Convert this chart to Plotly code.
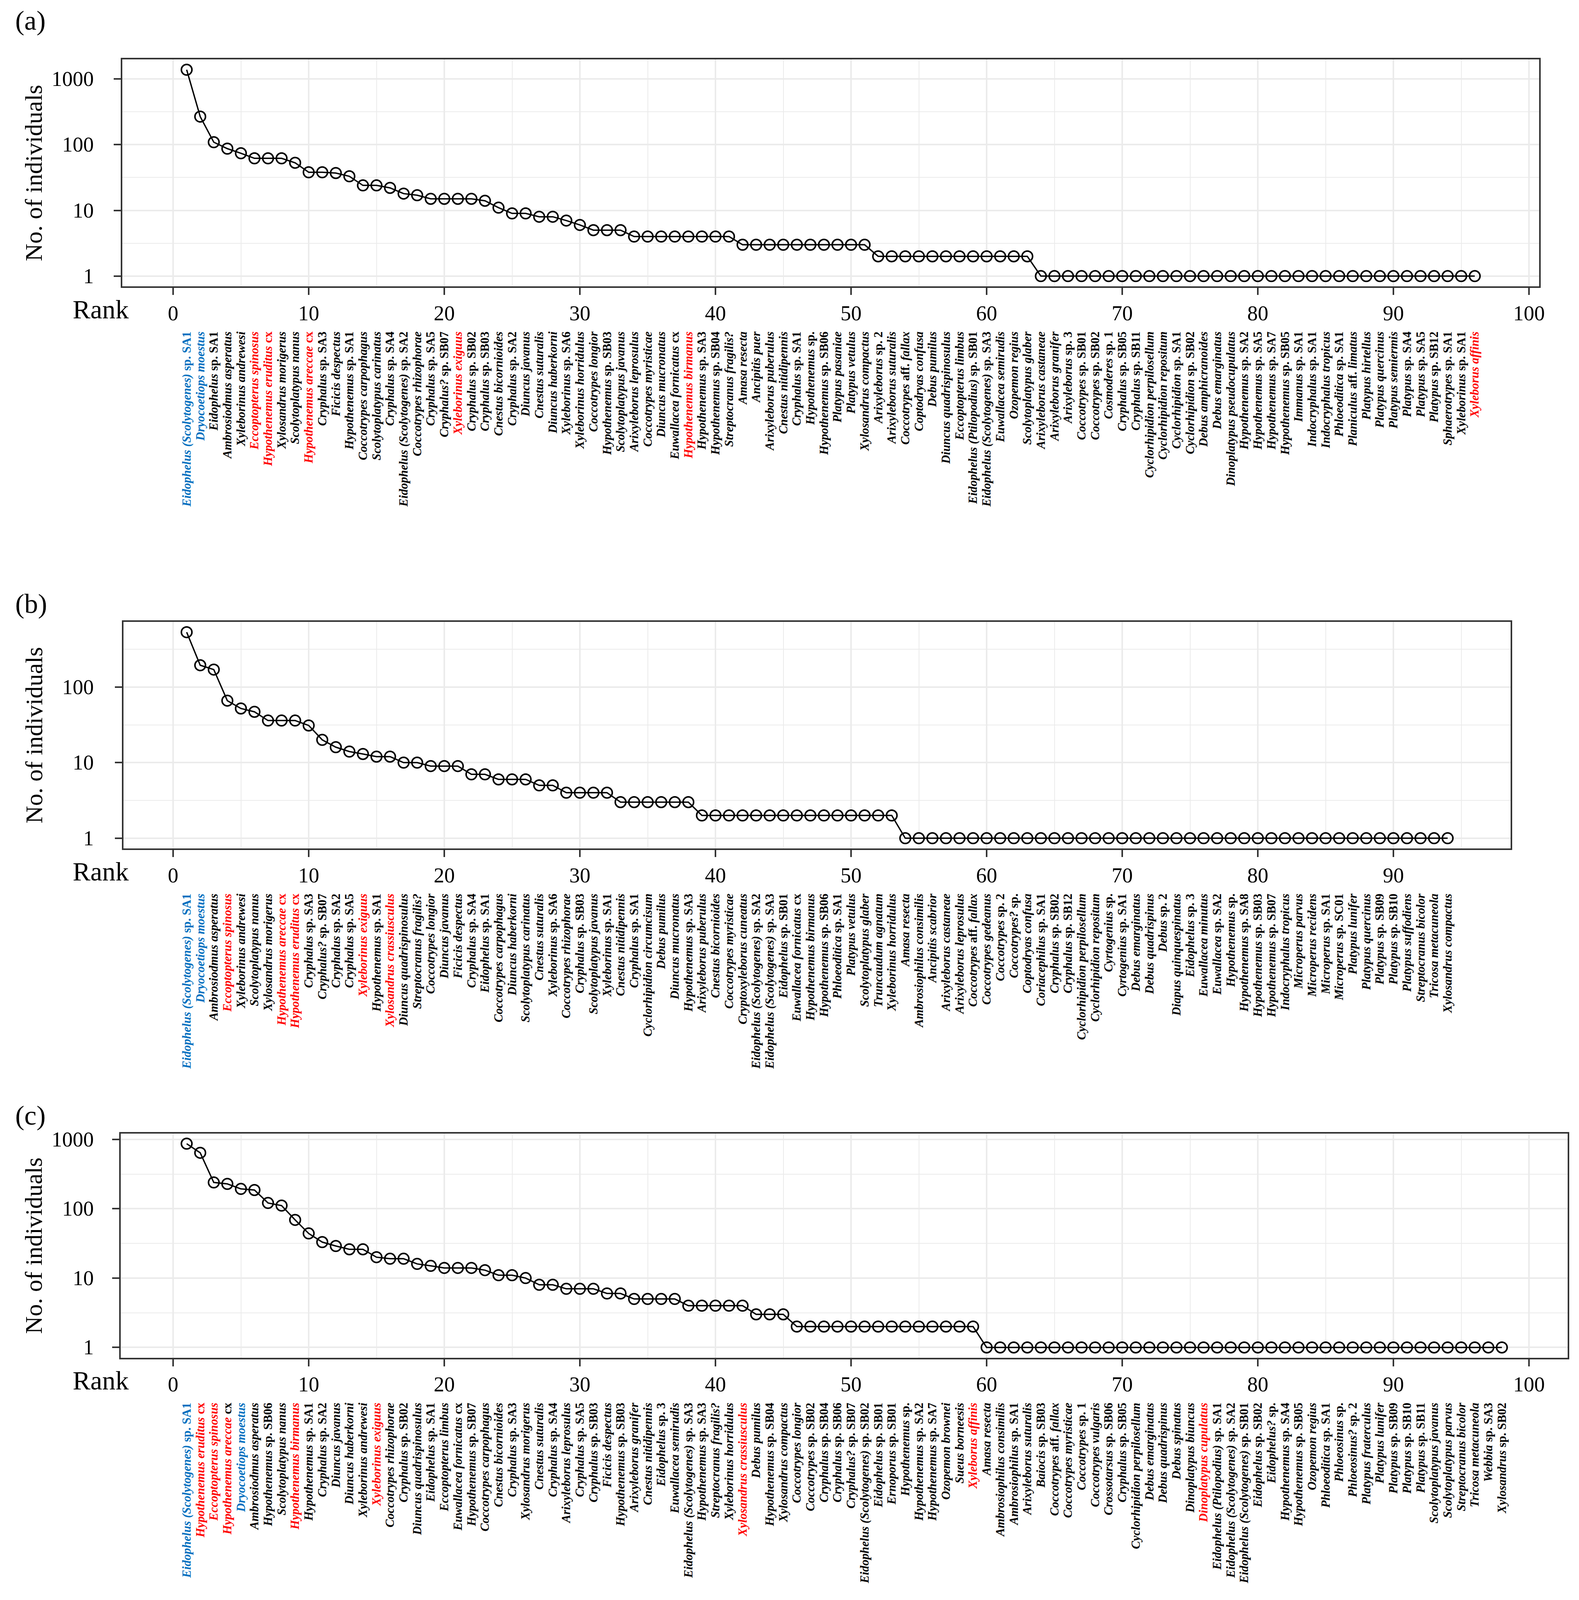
import plotly.graph_objects as go
import math
import json

# ---------------- data ----------------
a_names = [
    "Eidophelus (Scolytogenes) sp. SA1", "Dryocoetiops moestus", "Eidophelus sp. SA1",
    "Ambrosiodmus asperatus", "Xyleborinus andrewesi", "Eccoptopterus spinosus",
    "Hypothenemus eruditus cx", "Xylosandrus morigerus", "Scolytoplatypus nanus",
    "Hypothenemus areccae cx", "Cryphalus sp. SA3", "Ficicis despectus",
    "Hypothenemus sp. SA1", "Coccotrypes carpophagus", "Scolytoplatypus carinatus",
    "Cryphalus sp. SA4", "Eidophelus (Scolytogenes) sp. SA2", "Coccotrypes rhizophorae",
    "Cryphalus sp. SA5", "Cryphalus? sp. SB07", "Xyleborinus exiguus",
    "Cryphalus sp. SB02", "Cryphalus sp. SB03", "Cnestus bicornioides",
    "Cryphalus sp. SA2", "Diuncus javanus", "Cnestus suturalis",
    "Diuncus haberkorni", "Xyleborinus sp. SA6", "Xyleborinus horridulus",
    "Coccotrypes longior", "Hypothenemus sp. SB03", "Scolytoplatypus javanus",
    "Arixyleborus leprosulus", "Coccotrypes myristicae", "Diuncus mucronatus",
    "Euwallacea fornicatus cx", "Hypothenemus birmanus", "Hypothenemus sp. SA3",
    "Hypothenemus sp. SB04", "Streptocranus fragilis?", "Amasa resecta",
    "Ancipitis puer", "Arixyleborus puberulus", "Cnestus nitidipennis",
    "Cryphalus sp. SA1", "Hypothenemus sp.", "Hypothenemus sp. SB06",
    "Platypus pasaniae", "Platypus vetulus", "Xylosandrus compactus",
    "Arixyleborus sp. 2", "Arixyleborus suturalis", "Coccotrypes aff. fallax",
    "Coptodryas confusa", "Debus pumilus", "Diuncus quadrispinosulus",
    "Eccoptopterus limbus", "Eidophelus (Ptilopodius) sp. SB01", "Eidophelus (Scolytogenes) sp. SA3",
    "Euwallacea semirudis", "Ozopemon regius", "Scolytoplatypus glaber",
    "Arixyleborus castaneae", "Arixyleborus granifer", "Arixyleborus sp. 3",
    "Coccotrypes sp. SB01", "Coccotrypes sp. SB02", "Cosmoderes sp. 1",
    "Cryphalus sp. SB05", "Cryphalus sp. SB11", "Cyclorhipidion perpilosellum",
    "Cyclorhipidion repositum", "Cyclorhipidion sp. SA1", "Cyclorhipidion sp. SB02",
    "Debus amphicranoides", "Debus emarginatus", "Dinoplatypus pseudocupulatus",
    "Hypothenemus sp. SA2", "Hypothenemus sp. SA5", "Hypothenemus sp. SA7",
    "Hypothenemus sp. SB05", "Immanus sp. SA1", "Indocryphalus sp. SA1",
    "Indocryphalus tropicus", "Phloeoditica sp. SA1", "Planiculus aff. limatus",
    "Platypus hirtellus", "Platypus quercinus", "Platypus semiermis",
    "Platypus sp. SA4", "Platypus sp. SA5", "Platypus sp. SB12",
    "Sphaerotrypes sp. SA1", "Xyleborinus sp. SA1", "Xyleborus affinis",
]
a_counts = [
    1380, 267, 109, 87, 74, 62, 62, 62, 53, 38,
    38, 37, 33, 24, 24, 22, 18, 17, 15, 15,
    15, 15, 14, 11, 9, 9, 8, 8, 7, 6,
    5, 5, 5, 4, 4, 4, 4, 4, 4, 4,
    4, 3, 3, 3, 3, 3, 3, 3, 3, 3,
    3, 2, 2, 2, 2, 2, 2, 2, 2, 2,
    2, 2, 2, 1, 1, 1, 1, 1, 1, 1,
    1, 1, 1, 1, 1, 1, 1, 1, 1, 1,
    1, 1, 1, 1, 1, 1, 1, 1, 1, 1,
    1, 1, 1, 1, 1, 1,
]
a_blue = ["Eidophelus (Scolytogenes) sp. SA1", "Dryocoetiops moestus"]
a_red = ["Eccoptopterus spinosus", "Hypothenemus eruditus cx", "Hypothenemus areccae cx",
         "Xyleborinus exiguus", "Hypothenemus birmanus", "Xyleborus affinis"]

b_names = [
    "Eidophelus (Scolytogenes) sp. SA1", "Dryocoetiops moestus", "Ambrosiodmus asperatus",
    "Eccoptopterus spinosus", "Xyleborinus andrewesi", "Scolytoplatypus nanus",
    "Xylosandrus morigerus", "Hypothenemus areccae cx", "Hypothenemus eruditus cx",
    "Cryphalus sp. SA3", "Cryphalus? sp. SB07", "Cryphalus sp. SA2",
    "Cryphalus sp. SA5", "Xyleborinus exiguus", "Hypothenemus sp. SA1",
    "Xylosandrus crassiusculus", "Diuncus quadrispinosulus", "Streptocranus fragilis?",
    "Coccotrypes longior", "Diuncus javanus", "Ficicis despectus",
    "Cryphalus sp. SA4", "Eidophelus sp. SA1", "Coccotrypes carpophagus",
    "Diuncus haberkorni", "Scolytoplatypus carinatus", "Cnestus suturalis",
    "Xyleborinus sp. SA6", "Coccotrypes rhizophorae", "Cryphalus sp. SB03",
    "Scolytoplatypus javanus", "Xyleborinus sp. SA1", "Cnestus nitidipennis",
    "Cryphalus sp. SA1", "Cyclorhipidion circumcisum", "Debus pumilus",
    "Diuncus mucronatus", "Hypothenemus sp. SA3", "Arixyleborus puberulus",
    "Cnestus bicornioides", "Coccotrypes myristicae", "Cryptoxyleborus cuneatus",
    "Eidophelus (Scolytogenes) sp. SA2", "Eidophelus (Scolytogenes) sp. SA3", "Eidophelus sp. SB01",
    "Euwallacea fornicatus cx", "Hypothenemus birmanus", "Hypothenemus sp. SB06",
    "Phloeoditica sp. SA1", "Platypus vetulus", "Scolytoplatypus glaber",
    "Truncaudum agnatum", "Xyleborinus horridulus", "Amasa resecta",
    "Ambrosiophilus consimilis", "Ancipitis scabrior", "Arixyleborus castaneae",
    "Arixyleborus leprosulus", "Coccotrypes aff. fallax", "Coccotrypes gedeanus",
    "Coccotrypes sp. 2", "Coccotrypes? sp.", "Coptodryas confusa",
    "Coriacephilus sp. SA1", "Cryphalus sp. SB02", "Cryphalus sp. SB12",
    "Cyclorhipidion perpilosellum", "Cyclorhipidion repositum", "Cyrtogenius sp.",
    "Cyrtogenius sp. SA1", "Debus emarginatus", "Debus quadrispinus",
    "Debus sp. 2", "Diapus quinquespinatus", "Eidophelus sp. 3",
    "Euwallacea minutus", "Euwallacea sp. SA2", "Hypothenemus sp.",
    "Hypothenemus sp. SA8", "Hypothenemus sp. SB03", "Hypothenemus sp. SB07",
    "Indocryphalus tropicus", "Microperus parvus", "Microperus recidens",
    "Microperus sp. SA1", "Microperus sp. SC01", "Platypus lunifer",
    "Platypus quercinus", "Platypus sp. SB09", "Platypus sp. SB10",
    "Platypus suffodiens", "Streptocranus bicolor", "Tricosa metacuneola",
    "Xylosandrus compactus",
]
b_counts = [
    531, 194, 170, 66, 52, 47, 36, 36, 36, 31,
    20, 16, 14, 13, 12, 12, 10, 10, 9, 9,
    9, 7, 7, 6, 6, 6, 5, 5, 4, 4,
    4, 4, 3, 3, 3, 3, 3, 3, 2, 2,
    2, 2, 2, 2, 2, 2, 2, 2, 2, 2,
    2, 2, 2, 1, 1, 1, 1, 1, 1, 1,
    1, 1, 1, 1, 1, 1, 1, 1, 1, 1,
    1, 1, 1, 1, 1, 1, 1, 1, 1, 1,
    1, 1, 1, 1, 1, 1, 1, 1, 1, 1,
    1, 1, 1, 1,
]
b_blue = ["Eidophelus (Scolytogenes) sp. SA1", "Dryocoetiops moestus"]
b_red = ["Eccoptopterus spinosus", "Hypothenemus areccae cx", "Hypothenemus eruditus cx",
         "Xyleborinus exiguus", "Xylosandrus crassiusculus"]

c_names = [
    "Eidophelus (Scolytogenes) sp. SA1", "Hypothenemus eruditus cx", "Eccoptopterus spinosus",
    "Hypothenemus areccae cx", "Dryocoetiops moestus", "Ambrosiodmus asperatus",
    "Hypothenemus sp. SB06", "Scolytoplatypus nanus", "Hypothenemus birmanus",
    "Hypothenemus sp. SA1", "Cryphalus sp. SA2", "Diuncus javanus",
    "Diuncus haberkorni", "Xyleborinus andrewesi", "Xyleborinus exiguus",
    "Coccotrypes rhizophorae", "Cryphalus sp. SB02", "Diuncus quadrispinosulus",
    "Eidophelus sp. SA1", "Eccoptopterus limbus", "Euwallacea fornicatus cx",
    "Hypothenemus sp. SB07", "Coccotrypes carpophagus", "Cnestus bicornioides",
    "Cryphalus sp. SA3", "Xylosandrus morigerus", "Cnestus suturalis",
    "Cryphalus sp. SA4", "Arixyleborus leprosulus", "Cryphalus sp. SA5",
    "Cryphalus sp. SB03", "Ficicis despectus", "Hypothenemus sp. SB03",
    "Arixyleborus granifer", "Cnestus nitidipennis", "Eidophelus sp. 3",
    "Euwallacea semirudis", "Eidophelus (Scolytogenes) sp. SA3", "Hypothenemus sp. SA3",
    "Streptocranus fragilis?", "Xyleborinus horridulus", "Xylosandrus crassiusculus",
    "Debus pumilus", "Hypothenemus sp. SB04", "Xylosandrus compactus",
    "Coccotrypes longior", "Coccotrypes sp. SB02", "Cryphalus sp. SB04",
    "Cryphalus sp. SB06", "Cryphalus? sp. SB07", "Eidophelus (Scolytogenes) sp. SB02",
    "Eidophelus sp. SB01", "Ernoporus sp. SB01", "Hypothenemus sp.",
    "Hypothenemus sp. SA2", "Hypothenemus sp. SA7", "Ozopemon brownei",
    "Sueus borneesis", "Xyleborus affinis", "Amasa resecta",
    "Ambrosiophilus consimilis", "Ambrosiophilus sp. SA1", "Arixyleborus suturalis",
    "Baiocis sp. SB03", "Coccotrypes aff. fallax", "Coccotrypes myristicae",
    "Coccotrypes sp. 1", "Coccotrypes vulgaris", "Crossotarsus sp. SB06",
    "Cryphalus sp. SB05", "Cyclorhipidion perpilosellum", "Debus emarginatus",
    "Debus quadrispinus", "Debus spinatus", "Dinoplatypus biuncus",
    "Dinoplatypus cupulatus", "Eidophelus (Ptilopodius) sp. SA1", "Eidophelus (Scolytogenes) sp. SA2",
    "Eidophelus (Scolytogenes) sp. SB01", "Eidophelus sp. SB02", "Eidophelus? sp.",
    "Hypothenemus sp. SA4", "Hypothenemus sp. SB05", "Ozopemon regius",
    "Phloeoditica sp. SA1", "Phloeosinus sp.", "Phloeosinus? sp. 2",
    "Platypus fraterculus", "Platypus lunifer", "Platypus sp. SB09",
    "Platypus sp. SB10", "Platypus sp. SB11", "Scolytoplatypus javanus",
    "Scolytoplatypus parvus", "Streptocranus bicolor", "Tricosa metacuneola",
    "Webbia sp. SA3", "Xylosandrus sp. SB02",
]
c_counts = [
    866, 640, 239, 228, 193, 186, 121, 111, 69, 44,
    33, 29, 26, 26, 20, 19, 19, 16, 15, 14,
    14, 14, 13, 11, 11, 10, 8, 8, 7, 7,
    7, 6, 6, 5, 5, 5, 5, 4, 4, 4,
    4, 4, 3, 3, 3, 2, 2, 2, 2, 2,
    2, 2, 2, 2, 2, 2, 2, 2, 2, 1,
    1, 1, 1, 1, 1, 1, 1, 1, 1, 1,
    1, 1, 1, 1, 1, 1, 1, 1, 1, 1,
    1, 1, 1, 1, 1, 1, 1, 1, 1, 1,
    1, 1, 1, 1, 1, 1, 1, 1,
]
c_blue = ["Eidophelus (Scolytogenes) sp. SA1", "Dryocoetiops moestus"]
c_red = ["Hypothenemus eruditus cx", "Eccoptopterus spinosus", "Hypothenemus birmanus",
         "Xyleborinus exiguus", "Xylosandrus crassiusculus", "Xyleborus affinis",
         "Dinoplatypus cupulatus"]
c_red_name_only = ["Hypothenemus areccae cx"]

rank_ticks = [0, 10, 20, 30, 40, 50, 60, 70, 80, 90, 100]
rank_minor = [5, 15, 25, 35, 45, 55, 65, 75, 85, 95]
count_ticks_a = [1, 10, 100, 1000]
count_ticks_b = [1, 10, 100]
count_ticks_c = [1, 10, 100, 1000]

# ---------------- styling helpers ----------------
W, H = 4041, 4469
FONT = "Liberation Serif"
BLUE = "#0070C0"
RED = "#FF0000"
AXC = "#333333"
UPRIGHT = ("sp.", "aff.", "cx")
LABEL_SIZE = 34
TITLE_SIZE = 68
TICK_SIZE = 54


def segments(name):
    toks = name.split(" ")
    segs = []
    prev = None
    for t in toks:
        it = not (t in UPRIGHT or prev == "sp.")
        if segs and segs[-1][1] == it:
            segs[-1][0].append(t)
        else:
            segs.append([[t], it])
        prev = t
    return [(" ".join(s[0]), s[1]) for s in segs]


def fmt(name, blue, red, red_name_only=()):
    parts = []
    for text, it in segments(name):
        piece = f"<i>{text}</i>" if it else text
        if name in red_name_only and it:
            piece = f"<span style='color:{RED}'>{piece}</span>"
        parts.append(piece)
    html = " ".join(parts)
    if name in blue:
        html = f"<span style='color:{BLUE}'>{html}</span>"
    elif name in red:
        html = f"<span style='color:{RED}'>{html}</span>"
    return f"<b>{html}</b>"


def px_x(p):
    return p / W


def px_y(p):
    return 1 - p / H


PX_PER_RANK = 34.7
RANK0_PX = 443

panels = [
    dict(names=a_names, counts=a_counts, blue=a_blue, red=a_red, red_only=(),
         ticks=count_ticks_a, tag="(a)", top=166, bottom=800, tag_y=57),
    dict(names=b_names, counts=b_counts, blue=b_blue, red=b_red, red_only=(),
         ticks=count_ticks_b, tag="(b)", top=1737, bottom=2370, tag_y=1686),
    dict(names=c_names, counts=c_counts, blue=c_blue, red=c_red, red_only=c_red_name_only,
         ticks=count_ticks_c, tag="(c)", top=3166, bottom=3792, tag_y=3115),
]

fig = go.Figure()
annotations = []
title_idx = []
layout = {}

for i, p in enumerate(panels):
    k = i + 1
    kk = i + 4
    n = len(p["counts"])
    ranks = list(range(1, n + 1))
    xr = [1 - 0.05 * (n - 1), n + 0.05 * (n - 1)]
    lmax = math.log10(max(p["counts"]))
    yr = [-0.05 * lmax, 1.05 * lmax]
    left = RANK0_PX + PX_PER_RANK * xr[0]
    right = RANK0_PX + PX_PER_RANK * xr[1]
    xd = [px_x(left), min(px_x(right), 0.999)]
    yd = [px_y(p["bottom"]), px_y(p["top"])]

    xs = "x" if k == 1 else f"x{k}"
    ys = "y" if k == 1 else f"y{k}"

    fig.add_trace(go.Scatter(
        x=ranks, y=p["counts"], xaxis=xs, yaxis=ys, mode="lines+markers",
        line=dict(color="black", width=3.5),
        marker=dict(symbol="circle-open", size=27, color="black", line=dict(width=4)),
        showlegend=False, hoverinfo="x+y"))
    fig.add_trace(go.Scatter(
        x=ranks, y=p["counts"], xaxis=f"x{kk}", yaxis=ys, mode="markers",
        marker=dict(opacity=0, size=1), showlegend=False, hoverinfo="skip"))

    layout[f"xaxis{k}"] = dict(
        domain=xd, anchor=ys, range=xr, tickmode="array", tickvals=rank_ticks,
        ticktext=[str(v) for v in rank_ticks],
        ticks="outside", ticklen=18, tickwidth=4, tickcolor=AXC,
        showline=True, mirror=True, linecolor=AXC, linewidth=4,
        showgrid=True, gridcolor="#EBEBEB", gridwidth=3.5, zeroline=False,
        minor=dict(tickmode="array", tickvals=rank_minor, showgrid=True,
                   gridcolor="#EBEBEB", gridwidth=2, ticks=""),
        tickfont=dict(family=FONT, size=TICK_SIZE, color="black"),
        automargin=False)
    layout[f"yaxis{k}"] = dict(
        domain=yd, anchor=xs, type="log", range=yr, tickmode="array",
        tickvals=p["ticks"], showticklabels=False,
        ticks="outside", ticklen=18, tickwidth=4, tickcolor=AXC,
        showline=True, mirror=True, linecolor=AXC, linewidth=4,
        showgrid=True, gridcolor="#EBEBEB", gridwidth=3.5, zeroline=False,
        minor=dict(tickmode="array", tickvals=[10 ** 0.5, 10 ** 1.5, 10 ** 2.5],
                   showgrid=True, gridcolor="#EBEBEB", gridwidth=2, ticks=""),
        automargin=False)
    # count tick labels, placed on the log axis scale (annotation y is log10 on log axes)
    for v in p["ticks"]:
        annotations.append(dict(text=str(v), x=px_x(242), xref="paper", y=math.log10(v), yref=ys,
                                xanchor="right", yanchor="middle", showarrow=False,
                                font=dict(family=FONT, size=TICK_SIZE, color="black")))
    layout[f"xaxis{kk}"] = dict(
        overlaying=xs, anchor="free", position=px_y(p["bottom"] + 118), side="bottom",
        range=xr, tickmode="array", tickvals=ranks,
        ticktext=[fmt(nm, p["blue"], p["red"], p["red_only"]) for nm in p["names"]],
        tickangle=-90, ticks="", showline=False, showgrid=False, zeroline=False,
        tickfont=dict(family=FONT, size=LABEL_SIZE, color="black"), automargin=False)

    annotations.append(dict(text=p["tag"], x=px_x(37), y=px_y(p["tag_y"]), xref="paper", yref="paper",
                            xanchor="left", yanchor="middle", showarrow=False,
                            font=dict(family=FONT, size=70, color="black")))
    title_idx.append(len(annotations))
    annotations.append(dict(text="No. of individuals", x=px_x(86), y=(yd[0] + yd[1]) / 2,
                            xref="paper", yref="paper", xanchor="center", yanchor="middle",
                            textangle=-90, showarrow=False,
                            font=dict(family=FONT, size=TITLE_SIZE, color="black")))
    annotations.append(dict(text="Rank", x=px_x(332), y=px_y(p["bottom"] + 64), xref="paper", yref="paper",
                            xanchor="right", yanchor="middle", showarrow=False,
                            font=dict(family=FONT, size=TITLE_SIZE, color="black")))

fig.update_layout(
    width=W, height=H, margin=dict(l=0, r=0, t=0, b=0),
    paper_bgcolor="white", plot_bgcolor="white",
    annotations=annotations, showlegend=False, **layout)

# Fit the figure to the visible window so nothing is cut off; vertical texts scale with height.
post = """
document.body.style.margin='0';
document.body.style.overflow='hidden';
var gd=document.getElementById('{plot_id}');
var w=window.innerWidth, h=window.innerHeight;
if (w>500 && h>500) {
  var s=Math.min(1, h/%d);
  var upd={width:w, height:h};
  ['xaxis4','xaxis5','xaxis6'].forEach(function(a){upd[a+'.tickfont.size']=%d*s;});
  %s.forEach(function(i){upd['annotations['+i+'].font.size']=%d*s;});
  Plotly.relayout(gd, upd);
}
""" % (H, LABEL_SIZE, json.dumps(title_idx), TITLE_SIZE)

fig.write_html("out.html", post_script=post, config={"displayModeBar": False})
